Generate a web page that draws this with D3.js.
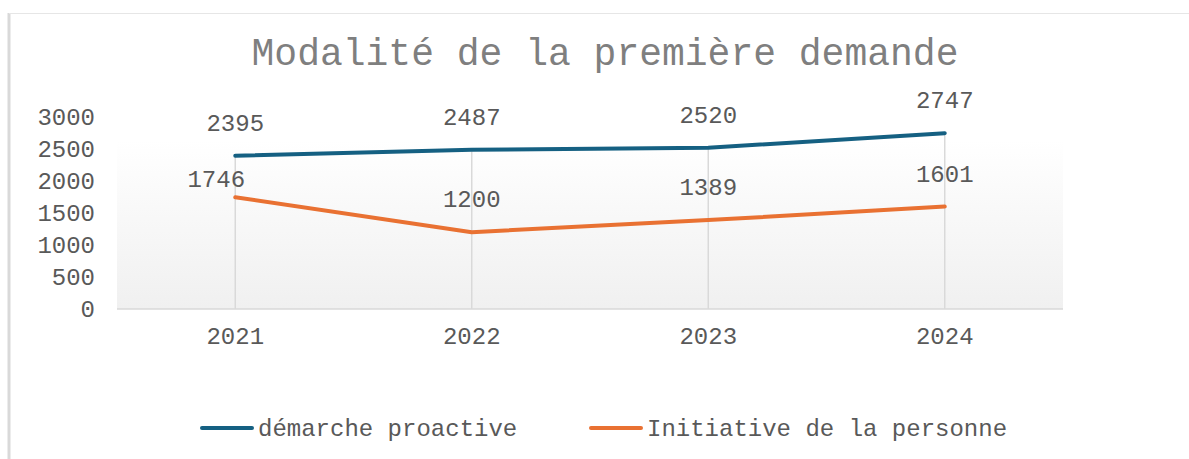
<!DOCTYPE html>
<html>
<head>
<meta charset="utf-8">
<script src="https://cdn.jsdelivr.net/npm/d3@7"></script>
<style>
  body { margin: 0; background: #fff; }
  text { font-family: "Liberation Mono", "DejaVu Sans Mono", monospace; }
</style>
</head>
<body>
<svg id="plot"></svg>
<script>
// Data
const years = ["2021", "2022", "2023", "2024"];
const proactive = [2395, 2487, 2520, 2747];
const initiative = [1746, 1200, 1389, 1601];
const seriesNames = ["démarche proactive", "Initiative de la personne"];
const yTicks = [0, 500, 1000, 1500, 2000, 2500, 3000];

const colors = ["#156082", "#E97132"];

// Canvas
const W = 1189, H = 459;
const plot = {left: 117, right: 1063, top: 117, bottom: 309};

const svg = d3.select("#plot")
    .attr("width", W)
    .attr("height", H);

// Frame around the chart
svg.append("line")
    .attr("x1", 9).attr("x2", 9).attr("y1", 13).attr("y2", H)
    .attr("stroke", "#d9d9d9").attr("stroke-width", 3);
svg.append("line")
    .attr("x1", 9).attr("x2", W).attr("y1", 13.5).attr("y2", 13.5)
    .attr("stroke", "#e6e6e6").attr("stroke-width", 1);

// Scales
const x = d3.scaleBand()
    .domain(years)
    .range([plot.left, plot.right]);
const y = d3.scaleLinear()
    .domain([0, 3000])
    .range([plot.bottom, plot.top]);
const cx = d => x(d) + x.bandwidth() / 2;

// Plot area gradient background
const grad = svg.append("defs").append("linearGradient")
    .attr("id", "bg").attr("x1", 0).attr("x2", 0).attr("y1", 0).attr("y2", 1);
grad.append("stop").attr("offset", "0%").attr("stop-color", "#ffffff");
grad.append("stop").attr("offset", "100%").attr("stop-color", "#f0f0f0");

svg.append("rect")
    .attr("x", plot.left)
    .attr("y", y(2640))
    .attr("width", plot.right - plot.left)
    .attr("height", plot.bottom - y(2640))
    .attr("fill", "url(#bg)");

// Title
svg.append("text")
    .attr("x", 605)
    .attr("y", 65)
    .attr("text-anchor", "middle")
    .attr("fill", "#7f7f7f")
    .style("font-size", "38px")
    .text("Modalité de la première demande");

// Drop lines from the highest point to the baseline
svg.selectAll(".drop")
    .data(years)
  .enter().append("line")
    .attr("class", "drop")
    .attr("x1", cx).attr("x2", cx)
    .attr("y1", (d, i) => y(Math.max(proactive[i], initiative[i])))
    .attr("y2", y(0))
    .attr("stroke", "#d9d9d9")
    .attr("stroke-width", 1.5);

// Baseline
svg.append("line")
    .attr("x1", plot.left).attr("x2", plot.right)
    .attr("y1", y(0)).attr("y2", y(0))
    .attr("stroke", "#d9d9d9")
    .attr("stroke-width", 1.5);

// Y axis labels
const yAxis = svg.append("g")
    .attr("transform", "translate(95,0)")
    .call(d3.axisLeft(y).tickValues(yTicks).tickFormat(d3.format("d")).tickSize(0).tickPadding(0));
yAxis.select(".domain").remove();
yAxis.selectAll("text")
    .attr("fill", "#595959")
    .style("font-size", "24px")
    .attr("font-family", null)
    .attr("dy", "0.3em");

// X axis labels
const xAxis = svg.append("g")
    .attr("transform", "translate(0," + y(0) + ")")
    .call(d3.axisBottom(x).tickSize(0).tickPadding(18));
xAxis.select(".domain").remove();
xAxis.selectAll("text")
    .attr("fill", "#595959")
    .style("font-size", "24px")
    .attr("font-family", null);

// Lines
const line = d3.line()
    .x((d, i) => cx(years[i]))
    .y(d => y(d));

[proactive, initiative].forEach((vals, s) => {
  svg.append("path")
      .datum(vals)
      .attr("d", line)
      .attr("fill", "none")
      .attr("stroke", colors[s])
      .attr("stroke-width", 4)
      .attr("stroke-linejoin", "round")
      .attr("stroke-linecap", "round");
});

// Data labels
const labelShift = [[0, 0, 0, 0], [-19, 0, 0, 0]];
const labelRise = [[32, 32, 32, 32], [17, 32, 32, 32]];
[proactive, initiative].forEach((vals, s) => {
  svg.selectAll(".lbl" + s)
      .data(vals)
    .enter().append("text")
      .attr("class", "lbl" + s)
      .attr("x", (d, i) => cx(years[i]) + labelShift[s][i])
      .attr("y", (d, i) => y(d) - labelRise[s][i])
      .attr("dy", "0.3em")
      .attr("text-anchor", "middle")
      .attr("fill", "#595959")
      .style("font-size", "24px")
      .text(d => d);
});

// Legend
const legendX = [200, 589];
const legend = svg.selectAll(".legend")
    .data(seriesNames)
  .enter().append("g")
    .attr("class", "legend")
    .attr("transform", (d, i) => "translate(" + legendX[i] + ",428)");
legend.append("line")
    .attr("x1", 2).attr("x2", 52)
    .attr("stroke", (d, i) => colors[i])
    .attr("stroke-width", 4)
    .attr("stroke-linecap", "round");
legend.append("text")
    .attr("x", 58)
    .attr("dy", "0.35em")
    .attr("fill", "#595959")
    .style("font-size", "24px")
    .text(d => d);
</script>
</body>
</html>
